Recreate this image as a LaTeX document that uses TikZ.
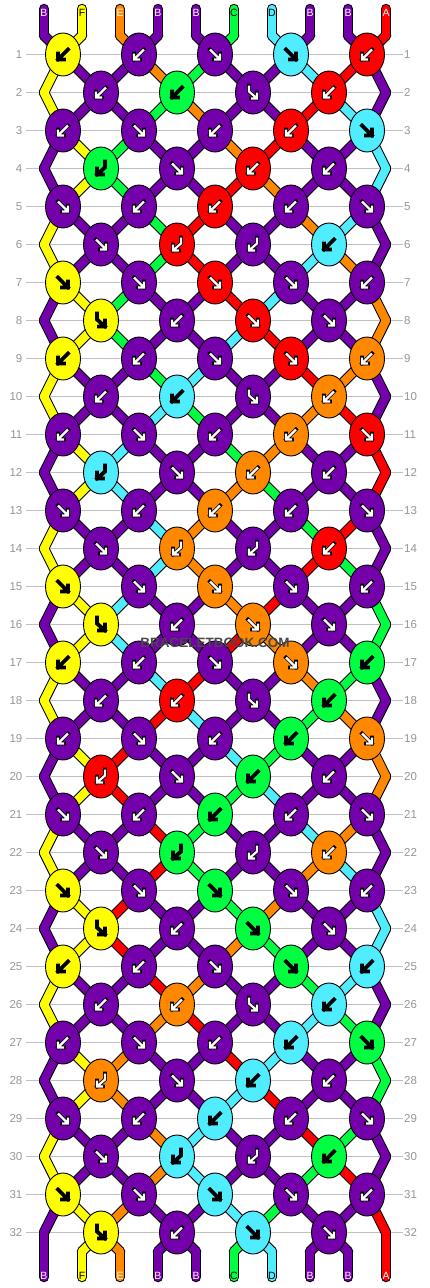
\documentclass[tikz,border=0pt]{standalone}
\usepackage{fontspec}
\setmainfont{Liberation Sans}
\usetikzlibrary{shapes.geometric}

\definecolor{sA}{RGB}{255,0,0}
\definecolor{sB}{RGB}{115,0,170}
\definecolor{sC}{RGB}{0,255,64}
\definecolor{sD}{RGB}{80,236,255}
\definecolor{sE}{RGB}{255,136,0}
\definecolor{sF}{RGB}{255,255,0}
\colorlet{arA}{white}
\colorlet{arB}{white}
\colorlet{arC}{black}
\colorlet{arD}{black}
\colorlet{arE}{white}
\colorlet{arF}{black}
\definecolor{rowgray}{RGB}{192,192,192}
\definecolor{labelgray}{RGB}{150,150,150}

\pgfdeclarelayer{rules}
\pgfdeclarelayer{strands}
\pgfsetlayers{rules,strands,main}

\tikzset{
  arrowedge/.style={draw=black, line width=3.8pt, line cap=rect, line join=miter},
  arrowcore/.style={line width=2.2pt, line cap=butt, line join=miter},
  pics/kf/.style={code={
    \draw[arrowedge] (-5,-5) -- (5,5) (5,-1) -- (5,5) -- (-1,5);
    \draw[arrowcore,draw=#1] (-5,-5) -- (5,5) (5,-1) -- (5,5) -- (-1,5);
  }},
  pics/kb/.style={code={
    \draw[arrowedge] (5,-5) -- (-5,5) (-5,-1) -- (-5,5) -- (1,5);
    \draw[arrowcore,draw=#1] (5,-5) -- (-5,5) (-5,-1) -- (-5,5) -- (1,5);
  }},
  pics/kfb/.style={code={
    \draw[arrowedge] (-4,-7) -- (-4,-1) -- (4,6) (4,0) -- (4,6) -- (-2,6);
    \draw[arrowcore,draw=#1] (-4,-7) -- (-4,-1) -- (4,6) (4,0) -- (4,6) -- (-2,6);
  }},
  pics/kbf/.style={code={
    \draw[arrowedge] (4,-7) -- (4,-1) -- (-4,6) (-4,0) -- (-4,6) -- (2,6);
    \draw[arrowcore,draw=#1] (4,-7) -- (4,-1) -- (-4,6) (-4,0) -- (-4,6) -- (2,6);
  }}
}

% knot colour and knot type, row by row
\def\knotrows{%
1/{F/b,B/b,B/f,D/f,A/b},%
2/{B/b,C/b,B/fb,A/b},%
3/{B/b,B/f,B/b,A/b,D/f},%
4/{C/bf,B/f,A/b,B/b},%
5/{B/f,B/b,A/b,B/b,B/f},%
6/{B/f,A/bf,B/bf,D/b},%
7/{F/f,B/f,A/f,B/f,B/b},%
8/{F/fb,B/b,A/f,B/f},%
9/{F/b,B/b,B/f,A/f,E/b},%
10/{B/b,D/b,B/fb,E/b},%
11/{B/b,B/f,B/b,E/b,A/f},%
12/{D/bf,B/f,E/b,B/b},%
13/{B/f,B/b,E/b,B/b,B/f},%
14/{B/f,E/bf,B/bf,A/b},%
15/{F/f,B/f,E/f,B/f,B/b},%
16/{F/fb,B/b,E/f,B/f},%
17/{F/b,B/b,B/f,E/f,C/b},%
18/{B/b,A/b,B/fb,C/b},%
19/{B/b,B/f,B/b,C/b,E/f},%
20/{A/bf,B/f,C/b,B/b},%
21/{B/f,B/b,C/b,B/b,B/f},%
22/{B/f,C/bf,B/bf,E/b},%
23/{F/f,B/f,C/f,B/f,B/b},%
24/{F/fb,B/b,C/f,B/f},%
25/{F/b,B/b,B/f,C/f,D/b},%
26/{B/b,E/b,B/fb,D/b},%
27/{B/b,B/f,B/b,D/b,C/f},%
28/{E/bf,B/f,D/b,B/b},%
29/{B/f,B/b,D/b,B/b,B/f},%
30/{B/f,D/bf,B/bf,C/b},%
31/{F/f,B/f,D/f,B/f,B/b},%
32/{F/fb,B/b,D/f,B/f}}

% strand colours below each row
\def\strandrows{%
0/{B,F,E,B,B,C,D,B,B,A},%
1/{F,B,B,E,C,B,B,D,A,B},%
2/{F,B,B,C,E,B,B,A,D,B},%
3/{B,F,C,B,B,E,A,B,B,D},%
4/{B,F,C,B,B,A,E,B,B,D},%
5/{F,B,B,C,A,B,B,E,D,B},%
6/{F,B,B,C,A,B,B,D,E,B},%
7/{B,F,C,B,B,A,D,B,B,E},%
8/{B,F,C,B,B,D,A,B,B,E},%
9/{F,B,B,C,D,B,B,A,E,B},%
10/{F,B,B,D,C,B,B,E,A,B},%
11/{B,F,D,B,B,C,E,B,B,A},%
12/{B,F,D,B,B,E,C,B,B,A},%
13/{F,B,B,D,E,B,B,C,A,B},%
14/{F,B,B,D,E,B,B,A,C,B},%
15/{B,F,D,B,B,E,A,B,B,C},%
16/{B,F,D,B,B,A,E,B,B,C},%
17/{F,B,B,D,A,B,B,E,C,B},%
18/{F,B,B,A,D,B,B,C,E,B},%
19/{B,F,A,B,B,D,C,B,B,E},%
20/{B,F,A,B,B,C,D,B,B,E},%
21/{F,B,B,A,C,B,B,D,E,B},%
22/{F,B,B,A,C,B,B,E,D,B},%
23/{B,F,A,B,B,C,E,B,B,D},%
24/{B,F,A,B,B,E,C,B,B,D},%
25/{F,B,B,A,E,B,B,C,D,B},%
26/{F,B,B,E,A,B,B,D,C,B},%
27/{B,F,E,B,B,A,D,B,B,C},%
28/{B,F,E,B,B,D,A,B,B,C},%
29/{F,B,B,E,D,B,B,A,C,B},%
30/{F,B,B,E,D,B,B,C,A,B},%
31/{B,F,E,B,B,D,C,B,B,A},%
32/{B,F,E,B,B,C,D,B,B,A}}

\begin{document}
\begin{tikzpicture}[x=1pt,y=-1pt]
    \tikzstyle{every node} = [font=\fontsize{11.5}{12}\selectfont]
    \tikzstyle{knot} = [draw=black, ellipse, line width=0.9pt, minimum width=35pt, minimum height=43pt, inner sep=0pt]
    \tikzstyle{strandedge} = [draw=black, line width=10.5pt, line cap=round]
    \tikzstyle{strand} = [line width=8.3pt, line cap=round]
    \tikzstyle{rowline} = [draw=rowgray, line width=1pt]
    \tikzstyle{rowlabel} = [text=labelgray, inner sep=0pt]
    \tikzstyle{endlabel} = [font=\fontsize{10.5}{11}\selectfont, inner sep=0pt]
    \useasboundingbox (0,0) rectangle (430,1288);

    % place nodes
    \foreach \r/\k in \knotrows {
      \foreach \c/\t [count=\j] in \k {
        \pgfmathtruncatemacro\pa{2*\j-mod(\r,2)}
        \pgfmathtruncatemacro\pb{\pa+1}
        \node[knot, fill=s\c, alias=s-\r-\pb] (s-\r-\pa) at ({63+38*(\pa-1)},{54.5+38*(\r-1)}) {};
        \pic at (s-\r-\pa.center) {k\t=ar\c};
      }
    }
    \foreach \p in {1,...,10} {
      \coordinate (top-\p) at ({44+38*(\p-1)},9);
      \coordinate (s-0-\p) at ({44+38*(\p-1)},35.5);
      \coordinate (s-33-\p) at ({44+38*(\p-1)},1251.5);
      \coordinate (bot-\p) at ({44+38*(\p-1)},1277);
    }
    \foreach \r in {2,4,...,32} {
      \coordinate (s-\r-1) at (44,{54.5+38*(\r-1)});
      \coordinate (s-\r-10) at (386,{54.5+38*(\r-1)});
    }

    % row numbers
    \begin{pgfonlayer}{rules}
    \fill[white] (0,0) rectangle (430,1288);
    \foreach \r in {1,...,32} {
      \node[rowlabel, anchor=east] (ll-\r) at (22.5,{54.5+38*(\r-1)}) {\r};
      \node[rowlabel, anchor=west] (rl-\r) at (404,{54.5+38*(\r-1)}) {\r};
      \draw[rowline] ([xshift=3.5pt]ll-\r.east) -- ([xshift=-1pt]rl-\r.west);
    }
    \end{pgfonlayer}

    % Connections
    \begin{pgfonlayer}{strands}
    \foreach \r/\s in \strandrows {
      \pgfmathtruncatemacro\rn{\r+1}
      \foreach \c [count=\p] in \s {
        \draw[strandedge] (s-\r-\p.center) -- (s-\rn-\p.center);
        \ifnum\r=0 \draw[strandedge] (top-\p) -- (s-0-\p); \fi
        \ifnum\r=32 \draw[strandedge] (s-33-\p) -- (bot-\p); \fi
      }
    }
    \foreach \r/\s in \strandrows {
      \pgfmathtruncatemacro\rn{\r+1}
      \foreach \c [count=\p] in \s {
        \draw[strand, draw=s\c] (s-\r-\p.center) -- (s-\rn-\p.center);
        \ifnum\r=0 \draw[strand, draw=s\c] (top-\p) -- (s-0-\p); \fi
        \ifnum\r=32 \draw[strand, draw=s\c] (s-33-\p) -- (bot-\p); \fi
      }
    }
    \end{pgfonlayer}

    % strand letters
    \foreach \c [count=\p] in {B,F,E,B,B,C,D,B,B,A} {
      \node[endlabel, text=ar\c] (lt-\p) at (top-\p) [yshift=-4pt] {\c};
      \node[endlabel, text=ar\c] (lb-\p) at (bot-\p) [yshift=1pt] {\c};
    }

    \node[font=\fontsize{13.5}{14}\selectfont\bfseries, text={rgb,255:red,72;green,72;blue,72}] (mark) at (215,643) {BRACELETBOOK.COM};
\end{tikzpicture}
\end{document}
